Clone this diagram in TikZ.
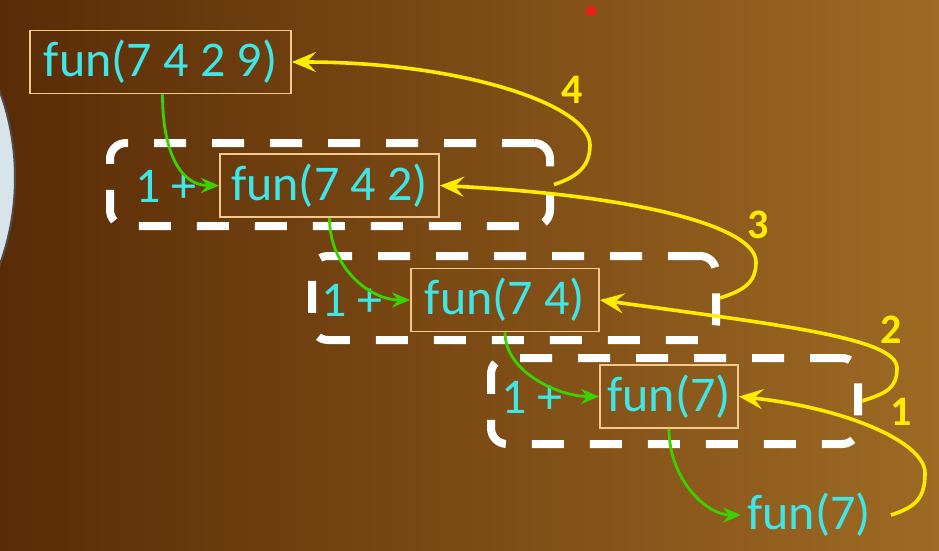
\documentclass[tikz,border=0pt]{standalone}
\usepackage{fontspec}
\setmainfont{Carlito}
\usetikzlibrary{arrows.meta}
\definecolor{bgL}{RGB}{90,44,6}
\definecolor{bgR}{RGB}{158,106,36}
\definecolor{cyantext}{RGB}{62,230,232}
\definecolor{boxedge}{RGB}{245,200,140}
\definecolor{grn}{RGB}{60,210,0}
\definecolor{yel}{RGB}{255,236,0}
\definecolor{disk}{RGB}{215,228,234}
\definecolor{laser}{RGB}{235,30,30}
\begin{document}
\begin{tikzpicture}[x=1pt,y=-1pt,
  funbox/.style={draw=boxedge,line width=1.8pt,text=cyantext,font=\fontsize{50}{60}\selectfont,inner xsep=0pt,inner ysep=0pt,minimum height=63pt},
  funtext/.style={text=cyantext,font=\fontsize{50}{60}\selectfont,inner sep=0pt},
  callbox/.style={draw=white,line width=8pt,dash pattern=on 32pt off 26pt,rounded corners=16pt,inner sep=0pt},
  callarrow/.style={draw=grn,line width=2.8pt,-{Stealth[length=18pt,width=15pt,inset=6pt]}},
  retarrow/.style={draw=yel,line width=3.6pt,-{Stealth[length=24pt,width=20pt,inset=9pt]}},
  steplabel/.style={text=yel,font=\fontsize{42}{48}\selectfont\bfseries,inner sep=0pt}]
\useasboundingbox (0,0) rectangle (939,550);
\shade[left color=bgL,right color=bgR] (0,0) rectangle (939,550);
\begin{scope}
  \clip (0,0) rectangle (939,550);
  \fill[disk,draw=black!70,line width=2pt] (-239,178) circle[radius=254];
\end{scope}
\fill[laser] (591,11) circle[radius=5.5];

% dashed call frames
\node[callbox,minimum width=440pt,minimum height=83pt] (F1) at (330,184.5) {};
\node[callbox,minimum width=404pt,minimum height=84pt] (F2) at (514,298) {};
\node[callbox,minimum width=367pt,minimum height=86pt] (F3) at (674.5,401) {};

% calls
\node[funbox,minimum width=261pt] (A) at (160.5,62) {fun(7 4 2 9)};
\node[funbox,minimum width=219pt] (B) at (329.5,185.5) {fun(7 4 2)};
\node[funbox,minimum width=188pt] (C) at (505,300) {fun(7 4)};
\node[funbox,minimum width=138pt] (D) at (669,396.5) {fun(7)};
\node[funtext] (E) at (809,515) {fun(7)};
\node[funtext] (pB) at (166,186) {1 +};
\node[funtext] (pC) at (352,300) {1 +};
\node[funtext] (pD) at (532,397) {1 +};

% green call arrows
\draw[callarrow] ([xshift=2pt]A.south) .. controls +(0,55) and +(-40,0) .. (B.west);
\draw[callarrow] (B.south) .. controls +(0,50) and +(-40,0) .. (C.west);
\draw[callarrow] (C.south) .. controls +(0,40) and +(-40,0) .. (D.west);
\draw[callarrow] (D.south) .. controls +(0,50) and +(-35,0) .. ([xshift=-6pt]E.west);

% yellow return arrows
\draw[retarrow] ([xshift=20pt]E.east) .. controls +(25,-8) and +(0,25) .. (925,473) .. controls +(0,-30) and +(110,12) .. (D.east);
\draw[retarrow] (F3.east) .. controls +(25,-8) and +(0,20) .. (897,368) .. controls +(0,-30) and +(180,25) .. (C.east);
\draw[retarrow] (F2.east) .. controls +(25,-8) and +(0,20) .. (756,262) .. controls +(0,-35) and +(200,10) .. (B.east);
\draw[retarrow] (F1.east) .. controls +(25,-8) and +(0,20) .. (590,145) .. controls +(0,-40) and +(170,0) .. (A.east);

% step labels
\node[steplabel] (n4) at (572,90) {4};
\node[steplabel] (n3) at (758,225) {3};
\node[steplabel] (n2) at (891,330) {2};
\node[steplabel] (n1) at (901,412) {1};
\end{tikzpicture}
\end{document}
